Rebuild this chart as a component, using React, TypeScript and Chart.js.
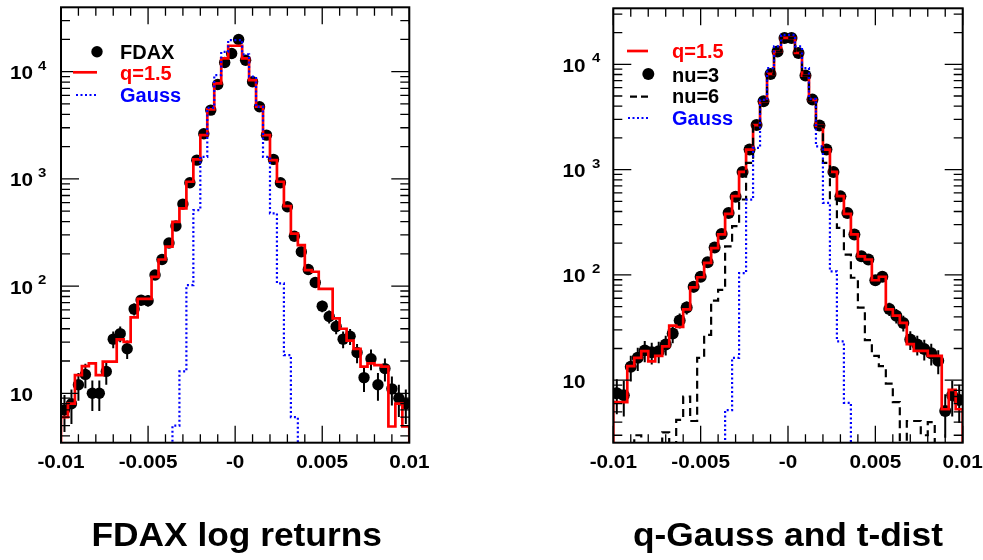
import React, { useEffect, useRef } from "react";
import { Chart, registerables } from "chart.js";

Chart.register(...registerables);

// ---------- axes ----------
const X_MIN = -0.01;
const X_MAX = 0.01;

const BIN_EDGES = [
  -0.01, -0.0096, -0.0092, -0.0088, -0.0084, -0.008, -0.0076, -0.0072, -0.0068, -0.0064,
  -0.006, -0.0056, -0.0052, -0.0048, -0.0044, -0.004, -0.0036, -0.0032, -0.0028, -0.0024,
  -0.002, -0.0016, -0.0012, -0.0008, -0.0004, 0, 0.0004, 0.0008, 0.0012, 0.0016,
  0.002, 0.0024, 0.0028, 0.0032, 0.0036, 0.004, 0.0044, 0.0048, 0.0052, 0.0056,
  0.006, 0.0064, 0.0068, 0.0072, 0.0076, 0.008, 0.0084, 0.0088, 0.0092, 0.0096, 0.01,
];

const BIN_CENTERS = [
  -0.0098, -0.0094, -0.009, -0.0086, -0.0082, -0.0078, -0.0074, -0.007, -0.0066, -0.0062,
  -0.0058, -0.0054, -0.005, -0.0046, -0.0042, -0.0038, -0.0034, -0.003, -0.0026, -0.0022,
  -0.0018, -0.0014, -0.001, -0.0006, -0.0002, 0.0002, 0.0006, 0.001, 0.0014, 0.0018,
  0.0022, 0.0026, 0.003, 0.0034, 0.0038, 0.0042, 0.0046, 0.005, 0.0054, 0.0058,
  0.0062, 0.0066, 0.007, 0.0074, 0.0078, 0.0082, 0.0086, 0.009, 0.0094, 0.0098,
];

const X_TICK_VALUES = [-0.01, -0.005, 0, 0.005, 0.01];
const X_TICK_LABELS = ["-0.01", "-0.005", "-0", "0.005", "0.01"];
const Y_DECADES = [10, 100, 1000, 10000];
const Y_EXPONENTS = ["", "2", "3", "4"];

// ---------- left panel: FDAX log returns ----------
const FDAX_COUNTS = [
  7, 8, 12, 15, 10, 10, 16, 32, 36, 26,
  61, 74, 73, 127, 177, 252, 363, 582, 920, 1496,
  2640, 4380, 7600, 12200, 14800, 20000, 12800, 8050, 4710, 2560,
  1520, 920, 550, 292, 209, 143, 108, 65, 52, 42,
  32, 34, 24, 14, 21, 12, 17, 11, 9, 8,
];

const QGAUSS_LEFT = [
  6, 8, 14.8, 17.9, 19, 14.8, 19.7, 19.7, 31.9, 30.2,
  51, 76, 76, 122, 177, 233, 398, 531, 940, 1520,
  2560, 4450, 7780, 13300, 17450, 17450, 13300, 8360, 4710, 2560,
  1496, 940, 557, 309, 241, 141, 136, 94, 94, 50,
  40, 31, 26, 17.7, 19, 18.3, 17.7, 4.9, 8, 4.9,
];

const GAUSS_LEFT = [
  1, 1, 1, 1, 1, 1, 1, 1, 1, 1,
  1, 1, 1, 1, 1, 1, 5, 16, 102, 512,
  1607, 4600, 9300, 15300, 19700, 19700, 14500, 9000, 4700, 1607,
  477, 106, 22.7, 6, 1, 1, 1, 1, 1, 1,
  1, 1, 1, 1, 1, 1, 1, 1, 1, 1,
];

// ---------- right panel: q-Gauss and t-dist ----------
const QGAUSS_RIGHT = [
  6.2, 6.2, 13.6, 16.3, 18.9, 15.1, 17, 21, 33, 32,
  47, 76, 95, 130, 180, 243, 380, 560, 950, 1550,
  2650, 4450, 8100, 13200, 17800, 17800, 12800, 7800, 4600, 2600,
  1550, 950, 560, 380, 243, 150, 140, 89, 96, 47,
  41, 35, 22, 19, 19, 17, 17, 5.3, 8.1, 5.3,
];

const TDIST_NU3 = [
  7.5, 7.2, 13.4, 16.3, 19.2, 18.4, 18.8, 21.8, 27.7, 37,
  49, 77, 96, 132, 182, 244, 388, 551, 951, 1549,
  2656, 4460, 8110, 13200, 17800, 17800, 12800, 7820, 4620, 2617,
  1549, 951, 557, 388, 242, 150, 140, 89, 96, 47.5,
  41, 35, 24.3, 21.8, 19.8, 18, 15.3, 5.1, 7.2, 6.5,
];

const TDIST_NU6 = [
  1, 1, 1, 3, 1, 1, 1, 3.2, 1, 4.2,
  7, 4.1, 16.3, 27, 57, 72, 187, 290, 520, 1160,
  2650, 4450, 8100, 13200, 17800, 17800, 12800, 7800, 4600, 2600,
  1160, 520, 280, 156, 94, 49, 24, 17, 13.6, 9.3,
  6.2, 1, 4.1, 4.1, 3, 4, 1, 1, 1, 1,
];

const GAUSS_RIGHT = [
  1, 1, 1, 1, 1, 1, 1, 1, 1, 1,
  1, 1, 1, 1, 1, 1, 5.2, 16.3, 104, 519,
  1607, 4600, 9200, 14800, 19000, 19000, 14800, 9200, 4700, 1663,
  483, 108, 23.4, 6.1, 1, 1, 1, 1, 1, 1,
  1, 1, 1, 1, 1, 1, 1, 1, 1, 1,
];

const TITLE_LEFT = "FDAX log returns";
const TITLE_RIGHT = "q-Gauss and t-dist";

const LEGEND_LEFT = ["FDAX", "q=1.5", "Gauss"];
const LEGEND_RIGHT = ["q=1.5", "nu=3", "nu=6", "Gauss"];

// ---------- helpers ----------
const FONT = '"Liberation Sans", Arial, Helvetica, sans-serif';
const RED = "#ff0000";
const BLUE = "#0000ff";
const BLACK = "#000000";
const FLOOR = 0.5;

function stepData(vals: number[]) {
  const pts: { x: number; y: number }[] = [{ x: BIN_EDGES[0], y: FLOOR }];
  vals.forEach((v, i) => pts.push({ x: BIN_EDGES[i], y: v }));
  pts.push({ x: BIN_EDGES[BIN_EDGES.length - 1], y: vals[vals.length - 1] });
  pts.push({ x: BIN_EDGES[BIN_EDGES.length - 1], y: FLOOR });
  return pts;
}

function pointData(vals: number[]) {
  return BIN_CENTERS.map((x, i) => ({ x, y: vals[i] }));
}

function drawText(
  ctx: CanvasRenderingContext2D,
  s: string,
  x: number,
  y: number,
  size: number,
  color: string,
  align: CanvasTextAlign,
  sx: number
) {
  ctx.save();
  ctx.font = `bold ${size}px ${FONT}`;
  ctx.fillStyle = color;
  ctx.textAlign = align;
  ctx.textBaseline = "alphabetic";
  ctx.translate(x, y);
  ctx.scale(sx, 1);
  ctx.fillText(s, 0, 0);
  ctx.restore();
}

type LegendEntry = {
  kind: "marker" | "line" | "dash" | "dot";
  color: string;
  text: string;
  x0: number;
  x1: number;
  y: number;
  tx: number;
  ty: number;
};

type PanelCfg = {
  title: string;
  titleX: number;
  titleY: number;
  labelRight: number;
  supX: number;
  radius: number;
  legend: LegendEntry[];
};

function makeDecor(cfg: PanelCfg) {
  return {
    id: "rootDecor",
    beforeDatasetDraw(chart: any, args: any) {
      const ds: any = chart.data.datasets[args.index];
      if (!ds.errorBars) return;
      const xs = chart.scales.x;
      const ys = chart.scales.y;
      const ctx: CanvasRenderingContext2D = chart.ctx;
      const a = chart.chartArea;
      ctx.save();
      ctx.beginPath();
      ctx.rect(a.left, a.top, a.right - a.left, a.bottom - a.top);
      ctx.clip();
      ctx.strokeStyle = BLACK;
      ctx.lineWidth = 2;
      ctx.setLineDash([]);
      ctx.beginPath();
      ds.data.forEach((p: { x: number; y: number }) => {
        const e = Math.sqrt(p.y);
        const px = xs.getPixelForValue(p.x);
        ctx.moveTo(px, ys.getPixelForValue(p.y + e));
        ctx.lineTo(px, ys.getPixelForValue(Math.max(p.y - e, 0.01)));
      });
      ctx.stroke();
      ctx.restore();
    },
    afterDraw(chart: any) {
      const ctx: CanvasRenderingContext2D = chart.ctx;
      const { left, right, top, bottom } = chart.chartArea;
      const xs = chart.scales.x;
      const ys = chart.scales.y;
      ctx.save();
      ctx.setLineDash([]);
      ctx.strokeStyle = BLACK;
      ctx.lineWidth = 1.3;
      ctx.beginPath();
      for (let k = -10; k <= 10; k++) {
        const px = xs.getPixelForValue(k / 1000);
        const len = k % 5 === 0 ? 17 : 8.5;
        ctx.moveTo(px, bottom);
        ctx.lineTo(px, bottom - len);
        ctx.moveTo(px, top);
        ctx.lineTo(px, top + len);
      }
      for (let d = 0; d <= 4; d++) {
        for (let m = 1; m <= 9; m++) {
          const v = m * Math.pow(10, d);
          if (v < ys.min || v > ys.max) continue;
          const py = ys.getPixelForValue(v);
          const len = m === 1 ? 18 : 9;
          ctx.moveTo(left, py);
          ctx.lineTo(left + len, py);
          ctx.moveTo(right, py);
          ctx.lineTo(right - len, py);
        }
      }
      ctx.stroke();
      ctx.lineWidth = 2;
      ctx.strokeRect(left, top, right - left, bottom - top);

      X_TICK_VALUES.forEach((v, i) => {
        drawText(ctx, X_TICK_LABELS[i], xs.getPixelForValue(v), bottom + 25.6, 18, BLACK, "center", 1.15);
      });
      Y_DECADES.forEach((v, i) => {
        const py = ys.getPixelForValue(v);
        drawText(ctx, "10", cfg.labelRight, py + 7.5, 18, BLACK, "right", 1.15);
        if (Y_EXPONENTS[i]) drawText(ctx, Y_EXPONENTS[i], cfg.supX, py - 2, 13, BLACK, "left", 1.15);
      });

      cfg.legend.forEach((e) => {
        ctx.save();
        if (e.kind === "marker") {
          ctx.fillStyle = e.color;
          ctx.beginPath();
          ctx.arc(e.x1, e.y, cfg.radius, 0, Math.PI * 2);
          ctx.fill();
        } else {
          ctx.strokeStyle = e.color;
          ctx.lineWidth = e.kind === "line" ? 2.7 : 2.2;
          ctx.setLineDash(e.kind === "dash" ? [7, 4] : e.kind === "dot" ? [2, 2.5] : []);
          ctx.beginPath();
          ctx.moveTo(e.x0, e.y);
          ctx.lineTo(e.x1, e.y);
          ctx.stroke();
        }
        ctx.restore();
        drawText(ctx, e.text, e.tx, e.ty, 20, e.kind === "marker" || e.color === BLACK ? BLACK : e.color, "left", 1.0);
      });

      drawText(ctx, cfg.title, cfg.titleX, cfg.titleY, 33, BLACK, "center", 1.07);
      ctx.restore();
    },
  };
}

function baseOptions(padding: any, yMin: number, yMax: number) {
  return {
    animation: false as const,
    responsive: false,
    maintainAspectRatio: false,
    events: [] as any[],
    layout: { padding },
    plugins: {
      legend: { display: false },
      tooltip: { enabled: false },
      title: { display: false },
    },
    scales: {
      x: { type: "linear" as const, min: X_MIN, max: X_MAX, display: false, bounds: "data" as const },
      y: { type: "logarithmic" as const, min: yMin, max: yMax, display: false, bounds: "data" as const },
    },
    elements: { line: { tension: 0 } },
  };
}

function stepSet(label: string, vals: number[], color: string, width: number, dash: number[]) {
  return {
    type: "line" as const,
    label,
    data: stepData(vals),
    borderColor: color,
    borderWidth: width,
    borderDash: dash,
    stepped: true,
    pointRadius: 0,
    fill: false,
    clip: 0,
  };
}

function pointSet(label: string, vals: number[], radius: number) {
  return {
    type: "scatter" as const,
    label,
    data: pointData(vals),
    pointRadius: radius,
    pointStyle: "circle",
    backgroundColor: BLACK,
    borderColor: BLACK,
    borderWidth: 0,
    showLine: false,
    errorBars: true,
  };
}

const LEFT_W = 490;
const RIGHT_W = 493;
const H = 560;

export default function App() {
  const leftRef = useRef<HTMLCanvasElement | null>(null);
  const rightRef = useRef<HTMLCanvasElement | null>(null);

  useEffect(() => {
    if (!leftRef.current || !rightRef.current) return;

    const leftCfg: PanelCfg = {
      title: TITLE_LEFT,
      titleX: 236.7,
      titleY: 546,
      labelRight: 33,
      supX: 38,
      radius: 5.7,
      legend: [
        { kind: "marker", color: BLACK, text: LEGEND_LEFT[0], x0: 97, x1: 97, y: 51.7, tx: 120, ty: 59 },
        { kind: "line", color: RED, text: LEGEND_LEFT[1], x0: 73, x1: 97, y: 72.3, tx: 120, ty: 80.3 },
        { kind: "dot", color: BLUE, text: LEGEND_LEFT[2], x0: 76, x1: 97, y: 95, tx: 120, ty: 101.7 },
      ],
    };

    const rightCfg: PanelCfg = {
      title: TITLE_RIGHT,
      titleX: 298,
      titleY: 546,
      labelRight: 95.5,
      supX: 102,
      radius: 6,
      legend: [
        { kind: "line", color: RED, text: LEGEND_RIGHT[0], x0: 137, x1: 158, y: 51, tx: 182, ty: 58.3 },
        { kind: "marker", color: BLACK, text: LEGEND_RIGHT[1], x0: 158.3, x1: 158.3, y: 74, tx: 182, ty: 81.7 },
        { kind: "dash", color: BLACK, text: LEGEND_RIGHT[2], x0: 140, x1: 158, y: 96.7, tx: 182, ty: 103.3 },
        { kind: "dot", color: BLUE, text: LEGEND_RIGHT[3], x0: 138, x1: 158, y: 118, tx: 182, ty: 125 },
      ],
    };

    // dataset index 0 is painted last (on top)
    const left = new Chart(leftRef.current, {
      type: "line",
      data: {
        datasets: [
          stepSet("Gauss", GAUSS_LEFT, BLUE, 2.2, [2, 2.5]),
          stepSet("q=1.5", QGAUSS_LEFT, RED, 2.7, []),
          pointSet("FDAX", FDAX_COUNTS, 5.7),
        ] as any,
      },
      options: baseOptions({ left: 61, right: LEFT_W - 409.3, top: 7.3, bottom: H - 442.7 }, 3.46, 39870) as any,
      plugins: [makeDecor(leftCfg) as any],
    });

    const right = new Chart(rightRef.current, {
      type: "line",
      data: {
        datasets: [
          stepSet("Gauss", GAUSS_RIGHT, BLUE, 2.2, [2, 2.5]),
          stepSet("nu=6", TDIST_NU6, BLACK, 2.2, [8, 5]),
          stepSet("q=1.5", QGAUSS_RIGHT, RED, 2.7, []),
          pointSet("nu=3", TDIST_NU3, 6),
        ] as any,
      },
      options: baseOptions({ left: 123.3, right: RIGHT_W - 472.7, top: 8.3, bottom: H - 442.7 }, 2.55, 34030) as any,
      plugins: [makeDecor(rightCfg) as any],
    });

    return () => {
      left.destroy();
      right.destroy();
    };
  }, []);

  return (
    <div style={{ position: "fixed", left: 0, top: 0, width: 983, height: H, background: "#ffffff" }}>
      <canvas
        ref={leftRef}
        width={LEFT_W}
        height={H}
        style={{ position: "absolute", left: 0, top: 0, width: LEFT_W, height: H }}
      />
      <canvas
        ref={rightRef}
        width={RIGHT_W}
        height={H}
        style={{ position: "absolute", left: LEFT_W, top: 0, width: RIGHT_W, height: H }}
      />
    </div>
  );
}
